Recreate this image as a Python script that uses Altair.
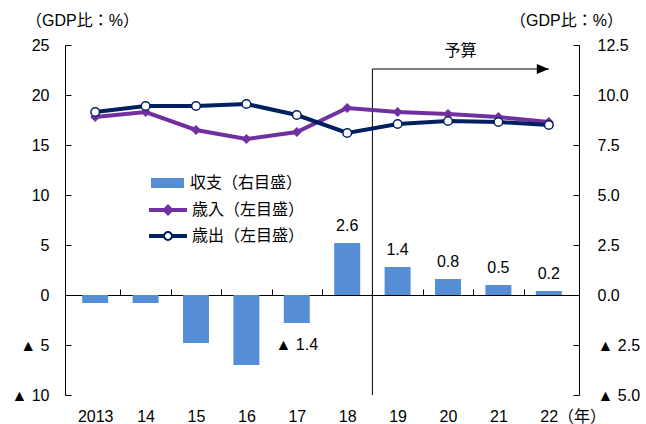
import altair as alt
import pandas as pd

# ---- data -------------------------------------------------------------
years = [2013, 2014, 2015, 2016, 2017, 2018, 2019, 2020, 2021, 2022]
balance = [-0.4, -0.4, -2.4, -3.5, -1.4, 2.6, 1.4, 0.8, 0.5, 0.2]       # right scale
revenue = [17.8, 18.3, 16.5, 15.6, 16.3, 18.7, 18.3, 18.1, 17.8, 17.3]  # left scale
expenditure = [18.3, 18.9, 18.9, 19.1, 18.0, 16.2, 17.1, 17.4, 17.3, 17.0]

bal_name = "収支（右目盛）"
rev_name = "歳入（左目盛）"
exp_name = "歳出（左目盛）"
unit_title = "（GDP比：%）"

labeled_from = 2017          # bar values are printed from this year on
budget_start = 2018.5        # boundary of the budget years
budget_end = 2022
budget_label = "予算"
arrow_level = 22.6           # height of the budget arrow on the left scale

left_ticks = [-10, -5, 0, 5, 10, 15, 20, 25]
right_ticks = [-5, -2.5, 0, 2.5, 5, 7.5, 10, 12.5]
gap_ticks = [y + 0.5 for y in years[:-1]]

# ---- style ------------------------------------------------------------
FONT = "Liberation Sans, Noto Sans CJK JP"
FS = 16
BLUE = "#558ED5"
PURPLE = "#7030A0"
NAVY = "#002060"
W, H = 514, 350

bar_df = pd.DataFrame({"year": years, "value": balance, "series": bal_name})
rev_df = pd.DataFrame({"year": years, "value": revenue, "series": rev_name})
exp_df = pd.DataFrame({"year": years, "value": expenditure, "series": exp_name})
anno_df = pd.DataFrame({
    "start": [budget_start], "end": [budget_end], "level": [arrow_level],
    "bottom": [left_ticks[0]], "top": [left_ticks[-1]], "label": [budget_label],
})

x_scale = alt.Scale(domain=[years[0] - 0.5, years[-1] + 0.5], nice=False, zero=False)
left_scale = alt.Scale(domain=[left_ticks[0], left_ticks[-1]], nice=False, zero=False)
right_scale = alt.Scale(domain=[right_ticks[0], right_ticks[-1]], nice=False, zero=False)

common_axis = dict(
    grid=False, domainColor="black", tickColor="black", labelColor="black",
    labelFont=FONT, labelFontSize=FS, titleFont=FONT, titleFontSize=FS,
    titleFontWeight="normal", titleColor="black",
)

# year labels along the bottom edge
bottom_axis = alt.Axis(
    orient="bottom", values=years, domain=False, ticks=False, tickSize=0,
    labelPadding=13, title=None,
    labelExpr="datum.value == 2013 ? '2013' : substring(toString(datum.value), 2) + (datum.value == 2022 ? '（年）' : '')",
    labelAlign={"condition": {"test": "datum.value == 2022", "value": "left"}, "value": "center"},
    labelOffset={"condition": {"test": "datum.value == 2022", "value": -9}, "value": 0},
    **common_axis,
)
# zero line with small ticks between the years
zero_axis = alt.Axis(
    orient="top", offset=-(H * 25 / 35), values=gap_ticks, labels=False,
    tickSize=6, title=None, **common_axis,
)
left_axis = alt.Axis(
    orient="right", offset=-W, values=left_ticks, tickSize=6, labelPadding=-22,
    labelAlign="right", labelBaseline="middle",
    labelExpr="datum.value < 0 ? '▲ ' + (-datum.value) : '' + datum.value",
    title=unit_title, titleAngle=0, titleX=17, titleY=-25,
    titleAlign="center", titleBaseline="middle", **common_axis,
)
right_axis = alt.Axis(
    orient="left", offset=-W, values=right_ticks, tickSize=6, labelPadding=-24,
    labelAlign="left", labelBaseline="middle",
    labelExpr="datum.value < 0 ? '▲ ' + format(-datum.value, '.1f') : format(datum.value, '.1f')",
    title=unit_title, titleAngle=0, titleX=-13, titleY=-25,
    titleAlign="center", titleBaseline="middle", **common_axis,
)

x_plain = alt.X("year:Q", scale=x_scale, axis=None)
y_left_plain = alt.Y("value:Q", scale=left_scale, axis=None)
y_right_plain = alt.Y("value:Q", scale=right_scale, axis=None)

# ---- legends ----------------------------------------------------------
legend_common = dict(
    title=None, orient="none", padding=0, labelFont=FONT, labelFontSize=FS,
    labelColor="black", clipHeight=26,
)
bar_legend = alt.Legend(
    legendX=86, legendY=125, symbolType="M-1,-0.3H1V0.3H-1Z", symbolSize=1089,
    symbolStrokeWidth=0, labelOffset=6, **legend_common,
)
circle_item = ("M-1,-0.055H-0.22V0.055H-1Z M0.22,-0.055H1V0.055H0.22Z "
               "M0.22,0A0.22,0.22 0 1 1 -0.22,0A0.22,0.22 0 1 1 0.22,0Z")
diamond_item = "M-1,-0.055H1V0.055H-1Z M0,-0.25L0.25,0L0,0.25L-0.25,0Z"
rev_legend = alt.Legend(
    legendX=84, legendY=152, symbolType=diamond_item, symbolSize=1296,
    symbolStrokeWidth=2, symbolFillColor=PURPLE, labelOffset=5, **legend_common,
)
exp_legend = alt.Legend(
    legendX=84, legendY=178, symbolType=circle_item, symbolSize=1296,
    symbolStrokeWidth=2, symbolFillColor="#ffffff", labelOffset=5, **legend_common,
)

# ---- layers -----------------------------------------------------------
bars = alt.Chart(bar_df).mark_bar(width=26).encode(
    x=alt.X("year:Q", scale=x_scale, axis=bottom_axis),
    y=alt.Y("value:Q", scale=right_scale, axis=right_axis),
    y2=alt.Y2(datum=0),
    fill=alt.Fill("series:N", scale=alt.Scale(domain=[bal_name], range=[BLUE]), legend=bar_legend),
)

bar_text_base = alt.Chart(bar_df).transform_filter(
    alt.datum.year >= labeled_from
).transform_calculate(
    label="datum.value < 0 ? '▲ ' + format(-datum.value, '.1f') : format(datum.value, '.1f')"
)
text_style = dict(font=FONT, fontSize=FS, color="black", baseline="middle")
bar_text_pos = bar_text_base.transform_filter("datum.value >= 0").mark_text(dy=-17, **text_style).encode(
    x=x_plain, y=y_right_plain, text="label:N")
bar_text_neg = bar_text_base.transform_filter("datum.value < 0").mark_text(dy=22, **text_style).encode(
    x=x_plain, y=y_right_plain, text="label:N")

rev_line = alt.Chart(rev_df).mark_line(strokeWidth=4).encode(
    x=alt.X("year:Q", scale=x_scale, axis=zero_axis),
    y=alt.Y("value:Q", scale=left_scale, axis=left_axis),
    stroke=alt.Stroke("series:N", scale=alt.Scale(domain=[rev_name], range=[PURPLE]), legend=rev_legend),
)
exp_line = alt.Chart(exp_df).mark_line(strokeWidth=4).encode(
    x=x_plain, y=y_left_plain,
    color=alt.Color("series:N", scale=alt.Scale(domain=[exp_name], range=[NAVY]), legend=exp_legend),
)
diamonds = alt.Chart(rev_df).mark_point(
    shape="diamond", filled=True, size=100, color=PURPLE, opacity=1
).encode(x=x_plain, y=y_left_plain)
circles = alt.Chart(exp_df).mark_point(
    shape="circle", size=75, fill="white", stroke=NAVY, strokeWidth=1.5, opacity=1, fillOpacity=1
).encode(x=x_plain, y=y_left_plain)

anno = alt.Chart(anno_df)
budget_vline = anno.mark_rule(color="black", strokeWidth=1).encode(
    x=alt.X("start:Q", scale=x_scale, axis=None),
    y=alt.Y("level:Q", scale=left_scale, axis=None),
    y2="bottom:Q",
)
budget_arrow = anno.mark_rule(color="black", strokeWidth=1).encode(
    x=alt.X("start:Q", scale=x_scale, axis=None),
    x2="end:Q",
    y=alt.Y("level:Q", scale=left_scale, axis=None),
)
arrow_head = anno.mark_point(
    shape="M0,0L-2.4,-1L-2.4,1Z", size=100, filled=True, color="black", opacity=1
).encode(
    x=alt.X("end:Q", scale=x_scale, axis=None),
    y=alt.Y("level:Q", scale=left_scale, axis=None),
)
budget_text = anno.transform_calculate(mid="(datum.start + datum.end) / 2").mark_text(
    dy=6, **text_style
).encode(
    x=alt.X("mid:Q", scale=x_scale, axis=None),
    y=alt.Y("top:Q", scale=left_scale, axis=None),
    text="label:N",
)

chart = alt.layer(
    bars, bar_text_pos, bar_text_neg, budget_vline, budget_arrow, arrow_head, budget_text,
    rev_line, exp_line, diamonds, circles,
).resolve_scale(
    y="independent"
).resolve_axis(
    x="independent", y="independent"
).properties(
    width=W, height=H,
    autosize=alt.AutoSizeParams(type="none"),
    padding={"left": 65, "top": 45, "right": 67, "bottom": 29},
    background="white",
).configure_view(strokeWidth=0)

chart.save("out.html", embed_options={"renderer": "svg", "actions": False})
